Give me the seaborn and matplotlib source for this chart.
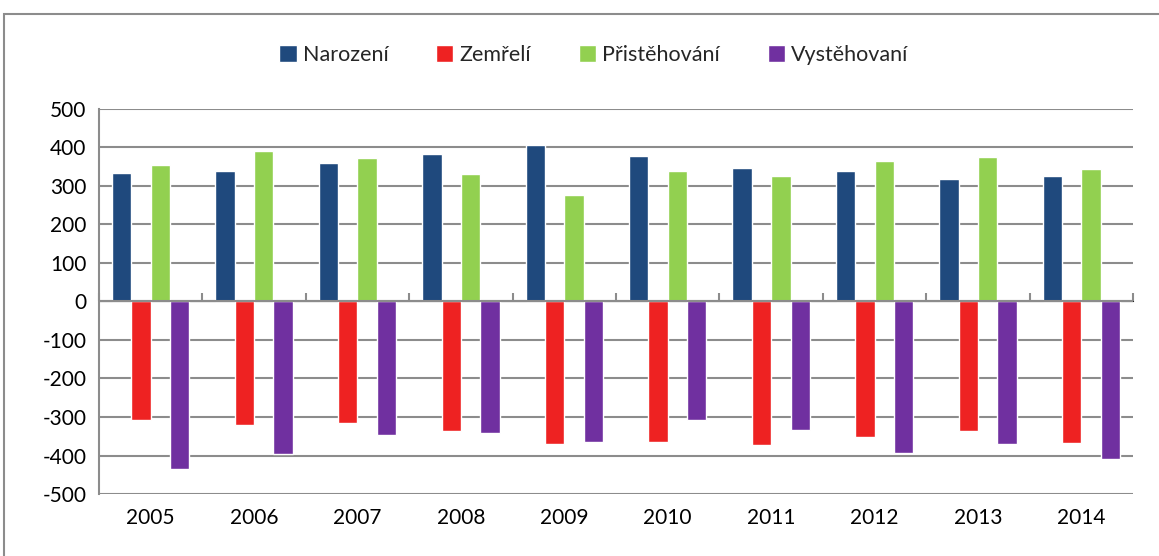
import matplotlib
matplotlib.use("Agg")
import matplotlib.pyplot as plt
from matplotlib.patches import Patch, Rectangle
import seaborn as sns
import pandas as pd

# data
years = ['2005', '2006', '2007', '2008', '2009', '2010', '2011', '2012', '2013', '2014']
narozeni = [334, 338, 359, 384, 406, 379, 347, 340, 319, 326]
zemreli = [-308, -321, -316, -336, -371, -366, -373, -351, -336, -367]
pristehovani = [354, 391, 372, 330, 276, 338, 325, 364, 376, 343]
vystehovani = [-436, -397, -347, -342, -366, -309, -333, -393, -370, -410]

series = ['Narození', 'Zemřelí', 'Přistěhování', 'Vystěhovaní']
colors = ['#1F497D', '#EE2222', '#92D050', '#7030A0']

df = pd.DataFrame({
    'rok': years * 4,
    'hodnota': narozeni + zemreli + pristehovani + vystehovani,
    'typ': [s for s in series for _ in years],
})

sns.set_style("white")
plt.rcParams['font.family'] = ['Lato', 'DejaVu Sans']
plt.rcParams['axes.unicode_minus'] = False

fig = plt.figure(figsize=(11.59, 5.56), dpi=100)
ax = fig.add_axes([0.0854, 0.1115, 0.8922, 0.6925])

sns.barplot(data=df, x='rok', y='hodnota', hue='typ', hue_order=series,
            palette=colors, saturation=1, width=0.75, ax=ax, legend=False)

grid_c = '#8C8C8C'
ax.set_ylim(-500, 500)
ax.set_xlim(-0.5, len(years) - 0.5)
ax.set_yticks(range(-500, 501, 100))
ax.yaxis.grid(True, color=grid_c, linewidth=1.5)
ax.set_axisbelow(True)
for s in ['top', 'right', 'bottom']:
    ax.spines[s].set_visible(False)
ax.spines['left'].set_color(grid_c)
ax.spines['left'].set_linewidth(1.5)
ax.tick_params(axis='y', length=5, color=grid_c, width=1.5, labelsize=15,
               labelcolor='black', pad=4)
ax.tick_params(axis='x', length=0, labelsize=15, labelcolor='black', pad=10)
ax.set_xlabel('')
ax.set_ylabel('')

# zero axis with category-boundary ticks
ax.axhline(0, color=grid_c, linewidth=1.5, zorder=1)
sec = ax.secondary_xaxis(0.5)
sec.set_xticks([i - 0.5 for i in range(len(years) + 1)])
sec.set_xticklabels([])
sec.tick_params(axis='x', length=6, width=1.5, color=grid_c, direction='out')
sec.spines['bottom'].set_visible(False)

handles = [Patch(facecolor=c, label=s) for c, s in zip(colors, series)]
fig.legend(handles=handles, loc='center', bbox_to_anchor=(0.5125, 0.901), ncol=4,
           frameon=False, fontsize=15.5, handlelength=0.8, handleheight=0.8,
           handletextpad=0.3, columnspacing=2.2)

# outer chart border
fig.patches.append(Rectangle((0.0035, -0.01), 1.0, 0.985, transform=fig.transFigure,
                             fill=False, edgecolor='#8C8C8C', linewidth=1.5))

fig.savefig('out.png', dpi=100)
